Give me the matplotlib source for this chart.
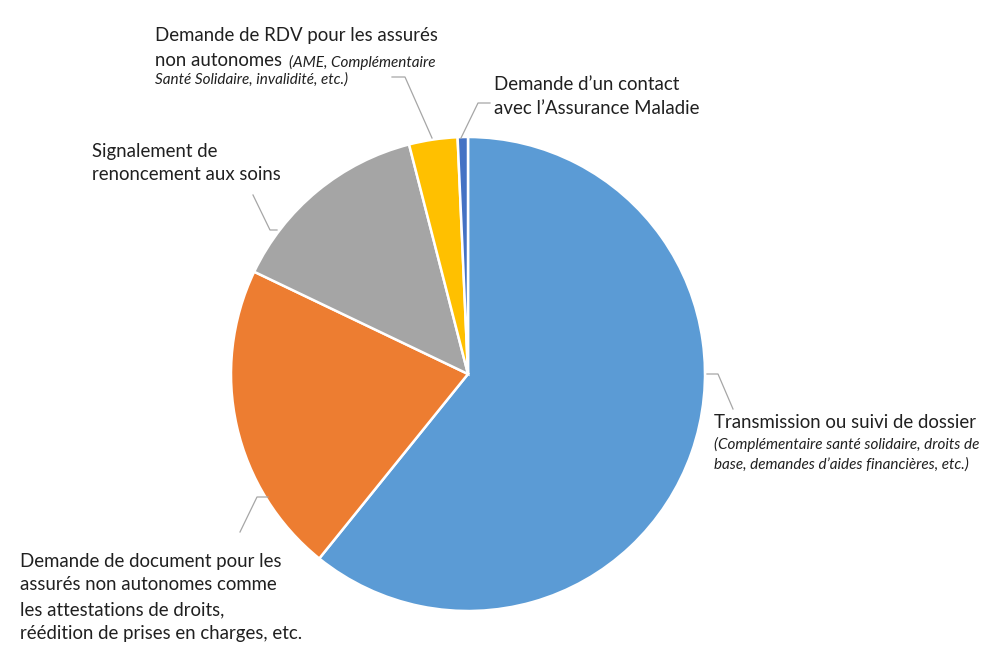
import matplotlib.pyplot as plt

plt.rcParams['font.family'] = ['Lato', 'DejaVu Sans']

# share of requests, clockwise from the top
categories = [
    'Transmission ou suivi de dossier',
    'Demande de document pour les assurés non autonomes',
    'Signalement de renoncement aux soins',
    'Demande de RDV pour les assurés non autonomes',
    "Demande d'un contact avec l'Assurance Maladie",
]
values = [60.8, 21.3, 13.9, 3.3, 0.7]
slice_colors = ['#5B9BD5', '#ED7D31', '#A5A5A5', '#FFC000', '#4472C4']

W, H = 1000, 661
fig = plt.figure(figsize=(10, 6.61), dpi=100)
ax = fig.add_axes([0, 0, 1, 1])
ax.set_xlim(0, W)
ax.set_ylim(0, H)
ax.axis('off')


def Y(y):
    # image rows -> axis units
    return H - y


ax.pie(values, colors=slice_colors, startangle=90, counterclock=False,
       center=(468, Y(374)), radius=237,
       wedgeprops=dict(edgecolor='white', linewidth=1.8))
ax.set_xlim(0, W)
ax.set_ylim(0, H)

# leader lines
lc = '#A6A6A6'
leaders = [
    [(392, 77), (405, 77), (432, 138)],
    [(461, 138), (478, 103), (490, 103)],
    [(707, 374), (718, 374), (733, 409)],
    [(268, 497), (257, 497), (240, 532)],
    [(253, 195), (270, 230), (277, 230)],
]
for pts in leaders:
    ax.plot([p[0] for p in pts], [Y(p[1]) for p in pts], color=lc, lw=0.9)

tc = '#202020'
big = 13.4
small = 11


def txt(x, y, s, size=big, style='normal'):
    ax.text(x, Y(y), s, fontsize=size, style=style, color=tc,
            ha='left', va='center')


txt(155, 35, 'Demande de RDV pour les assurés')
txt(155, 61, 'non autonomes')
txt(289, 62, '(AME, Complémentaire', small, 'italic')
txt(155, 80, 'Santé Solidaire, invalidité, etc.)', small, 'italic')

txt(494, 85, 'Demande d\u2019un contact')
txt(494, 109, 'avec l\u2019Assurance Maladie')

txt(92, 151, 'Signalement de')
txt(92, 175, 'renoncement aux soins')

txt(714, 423, 'Transmission ou suivi de dossier')
txt(714, 444, '(Complémentaire santé solidaire, droits de', small, 'italic')
txt(714, 465, 'base, demandes d\u2019aides financières, etc.)', small, 'italic')

txt(20, 561, 'Demande de document pour les')
txt(20, 585, 'assurés non autonomes comme')
txt(20, 610, 'les attestations de droits,')
txt(20, 634, 'réédition de prises en charges, etc.')

fig.savefig('out.png', dpi=100, facecolor='white')
